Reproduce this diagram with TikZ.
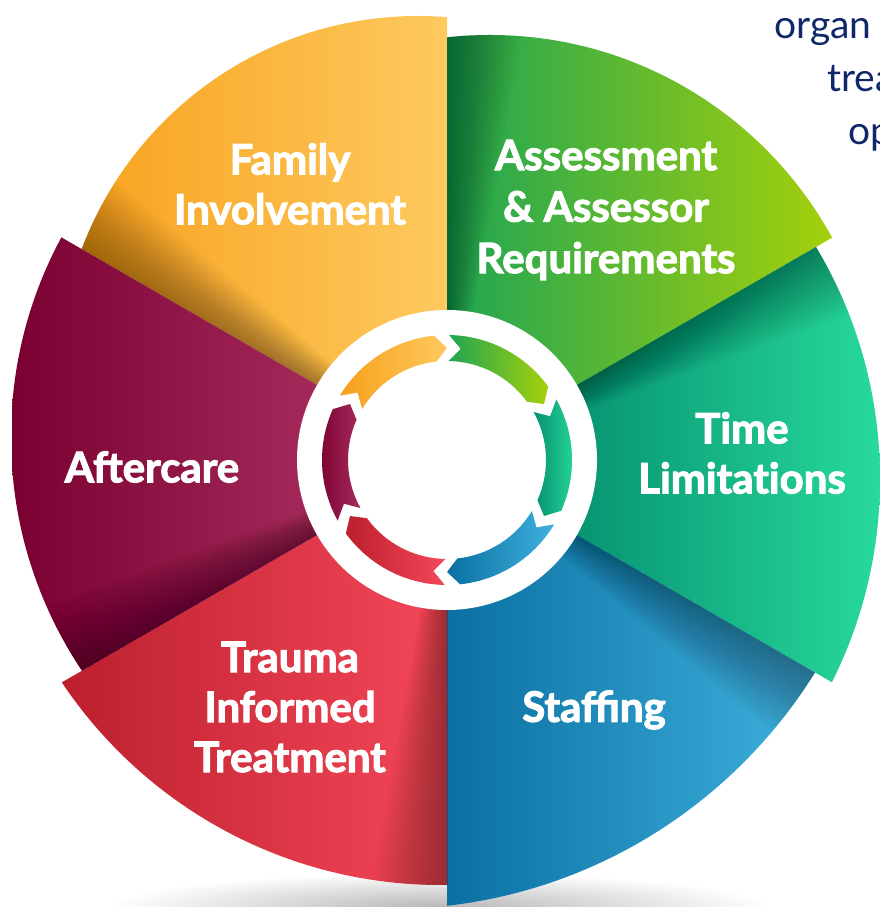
\documentclass[tikz,border=0pt]{standalone}
\usepackage{fontspec}
\setmainfont{Lato}
\newfontfamily\heavy{Lato}[BoldFeatures={FakeBold=2.5}]
\usetikzlibrary{calc}
\definecolor{famA}{HTML}{F7A01B}
\definecolor{famB}{HTML}{FEC95E}
\definecolor{assA}{HTML}{1FA554}
\definecolor{assB}{HTML}{A6D00A}
\definecolor{timA}{HTML}{05906F}
\definecolor{timB}{HTML}{28D99C}
\definecolor{staA}{HTML}{0A70A1}
\definecolor{staB}{HTML}{3FB1DE}
\definecolor{traA}{HTML}{BC1F2D}
\definecolor{traB}{HTML}{F4485A}
\definecolor{aftA}{HTML}{790030}
\definecolor{aftB}{HTML}{A42B5B}
\definecolor{navy}{HTML}{10286A}
\tikzset{
  lab/.style={text=white, font=\fontsize{42}{50}\selectfont\heavy\bfseries, align=center, inner sep=0pt},
  side/.style={text=navy, font=\fontsize{39}{47}\selectfont, anchor=base west, inner sep=0pt},
}
% #1 start angle, #2 centre x, #3 centre y, #4 radius, #5 left colour, #6 right colour, #7 xmin, #8 xmax
\newcommand\wedgesector[8]{%
  \begin{scope}
    \clip (C) -- ($(C)+(#1:1300)$) -- ($(C)+({#1+30}:1300)$) -- ($(C)+({#1+60}:1300)$) -- cycle;
    \clip (#2,#3) circle[radius=#4];
    \shade[left color=#5, right color=#6] (#7,0) rectangle (#8,907);
    \foreach \k in {1,...,24}{
      \fill[black, opacity=0.014] (C) -- ($(C)+({#1+60}:1300)$) -- ($(C)+({#1+60-\k*0.42}:1300)$) -- cycle;
    }
  \end{scope}}
\begin{document}
\begin{tikzpicture}[x=1pt,y=1pt]
\useasboundingbox (0,0) rectangle (880,907);
\clip (0,0) rectangle (880,907);
\coordinate (C) at (447,447);
% soft floor shadow
\shade[inner color=black!28, outer color=white] (440,0) ellipse[x radius=330, y radius=34];
% sectors
\wedgesector{90}{418}{532}{359}{famA}{famB}{60}{447}
\wedgesector{30}{490}{482}{390}{assA}{assB}{447}{835}
\wedgesector{-30}{428}{428}{452}{timA}{timB}{560}{880}
\wedgesector{-90}{390}{498}{500}{staA}{staB}{447}{815}
\wedgesector{-150}{441}{478}{456}{traA}{traB}{62}{447}
\wedgesector{150}{431}{470}{420}{aftA}{aftB}{12}{330}
% white ring
\fill[white] (C) circle[radius=150];
% cycle arrows
\foreach \s/\ca/\cb in {150/famA/famB, 90/assA/assB, 30/timA/timB, -30/staA/staB, -90/traA/traB, -150/aftA/aftB}{
  \shade[left color=\ca, right color=\cb]
    ($(C)+({\s-1}:125)$) arc[start angle={\s-1}, end angle={\s-54}, radius=125]
    -- ($(C)+({\s-60}:112)$) -- ($(C)+({\s-54}:99)$)
    arc[start angle={\s-54}, end angle={\s-1}, radius=99]
    -- ($(C)+({\s-7}:112)$) -- cycle;
}
% labels
\node[lab] (family) at (290,723) {Family\\Involvement};
\node[lab, font=\fontsize{42}{51.5}\selectfont\heavy\bfseries] (assess) at (606,697) {Assessment\\\& Assessor\\Requirements};
\node[lab] (time) at (742,454) {Time\\Limitat\kern0pt ions};
\node[lab] (after) at (152,440) {Aftercare};
\node[lab] (trauma) at (290,200) {Trauma\\Informed\\Treatment};
\node[lab] (staff) at (594,197) {Staffing};
% cut-off side text
\node[side] (t1) at (774,868) {organ};
\node[side] (t2) at (827,815) {trea};
\node[side] (t3) at (848,762) {op};
\end{tikzpicture}
\end{document}
